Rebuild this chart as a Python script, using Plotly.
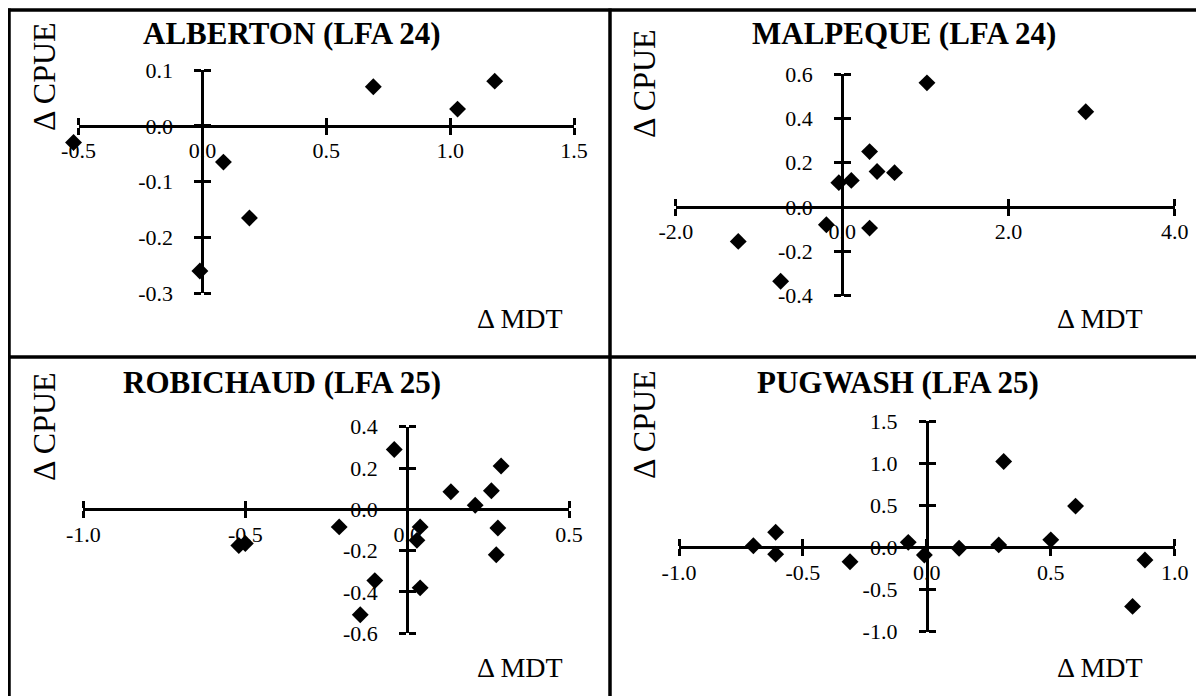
import plotly.graph_objects as go

# ---------------- data ----------------
titles = ["ALBERTON (LFA 24)", "MALPEQUE (LFA 24)", "ROBICHAUD (LFA 25)", "PUGWASH (LFA 25)"]
x_label = "\u0394 MDT"
y_label = "\u0394 CPUE"

alberton_mdt = [-0.52, 0.69, 1.03, 1.18, 0.085, 0.19, -0.01]
alberton_cpue = [-0.03, 0.07, 0.03, 0.08, -0.065, -0.165, -0.26]

malpeque_mdt = [1.02, 2.93, 0.33, 0.42, 0.63, -0.04, 0.11, -0.19, 0.33, -1.25, -0.74]
malpeque_cpue = [0.56, 0.43, 0.25, 0.16, 0.155, 0.11, 0.12, -0.08, -0.095, -0.155, -0.335]

robichaud_mdt = [-0.04, 0.29, 0.135, 0.26, 0.21, 0.28, 0.275, 0.04, 0.03, -0.21, -0.52, -0.50,
                 -0.10, 0.04, -0.145]
robichaud_cpue = [0.29, 0.21, 0.085, 0.09, 0.02, -0.09, -0.22, -0.085, -0.15, -0.085, -0.175,
                  -0.165, -0.345, -0.38, -0.51]

pugwash_mdt = [0.31, 0.60, 0.50, 0.29, 0.13, -0.075, -0.01, -0.31, -0.61, -0.61, -0.70, 0.88, 0.83]
pugwash_cpue = [1.02, 0.49, 0.09, 0.03, -0.01, 0.06, -0.09, -0.17, 0.18, -0.08, 0.02, -0.15, -0.70]

xs = [alberton_mdt, malpeque_mdt, robichaud_mdt, pugwash_mdt]
ys = [alberton_cpue, malpeque_cpue, robichaud_cpue, pugwash_cpue]

x_ranges = [[-0.5, 1.5], [-2.0, 4.0], [-1.0, 0.5], [-1.0, 1.0]]
y_ranges = [[-0.3, 0.1], [-0.4, 0.6], [-0.6, 0.4], [-1.0, 1.5]]

x_ticks = [[-0.5, 0.0, 0.5, 1.0, 1.5], [-2.0, 0.0, 2.0, 4.0],
           [-1.0, -0.5, 0.0, 0.5], [-1.0, -0.5, 0.0, 0.5, 1.0]]
x_ticktext = [["-0.5", "0.0", "0.5", "1.0", "1.5"], ["-2.0", "0.0", "2.0", "4.0"],
              ["-1.0", "-0.5", "0.0", "0.5"], ["-1.0", "-0.5", "0.0", "0.5", "1.0"]]
y_ticks = [[-0.3, -0.2, -0.1, 0.0, 0.1], [-0.4, -0.2, 0.0, 0.2, 0.4, 0.6],
           [-0.6, -0.4, -0.2, 0.0, 0.2, 0.4], [-1.0, -0.5, 0.0, 0.5, 1.0, 1.5]]
y_ticktext = [["-0.3", "-0.2", "-0.1", "0.0", "0.1"], ["-0.4", "-0.2", "0.0", "0.2", "0.4", "0.6"],
              ["-0.6", "-0.4", "-0.2", "0.0", "0.2", "0.4"], ["-1.0", "-0.5", "0.0", "0.5", "1.0", "1.5"]]

# ---------------- layout (page pixels) ----------------
W, H = 1204, 696
OFF = 8  # default page margin around the plot div
PAD = 30  # extra room so markers just beyond an axis end are still drawn
# plot-area pixel boxes: (left, right, top, bottom)
boxes = [(78.5, 574.0, 70.0, 293.3),
         (675.9, 1174.7, 74.0, 295.7),
         (83.4, 569.1, 426.7, 633.3),
         (679.0, 1174.7, 421.0, 631.7)]
title_pos = [(291, 33), (904, 33), (282, 382), (898, 382)]
ylab_pos = [(44, 77), (644, 84), (44, 427), (644, 425)]
xlab_pos = [(520, 318), (1100, 318), (520, 667), (1100, 667)]

FONT = "Liberation Serif, Times New Roman, serif"


def px(x):
    return (x - OFF) / W


def py(y):
    return 1 - (y - OFF) / H


fig = go.Figure()
layout = dict(
    template="none",
    width=W, height=H, margin=dict(l=0, r=0, t=0, b=0, autoexpand=False),
    paper_bgcolor="white", plot_bgcolor="rgba(0,0,0,0)",
    showlegend=False, font=dict(family=FONT, color="black", size=22),
)

annotations = []
for i in range(4):
    n = "" if i == 0 else str(i + 1)
    h = str(i + 5)  # hidden companion axes carrying the markers
    l, r, t, b = boxes[i]
    x0, x1 = x_ranges[i]
    y0, y1 = y_ranges[i]
    ux = (x1 - x0) / (r - l)
    uy = (y1 - y0) / (b - t)
    # pixel location of the zero crossing
    zero_px = l + (0 - x0) / (x1 - x0) * (r - l)
    zero_py = t + (y1 - 0) / (y1 - y0) * (b - t)

    # invisible trace that anchors the visible crossing axes
    fig.add_trace(go.Scatter(
        x=xs[i], y=ys[i], mode="markers", xaxis="x" + n, yaxis="y" + n,
        marker=dict(size=1, opacity=0), hoverinfo="skip",
    ))
    # the data markers, on the same scale with a little extra room
    fig.add_trace(go.Scatter(
        x=xs[i], y=ys[i], mode="markers", xaxis="x" + h, yaxis="y" + h,
        marker=dict(symbol="diamond", size=13, color="black", line=dict(width=0)),
        cliponaxis=False, hoverinfo="x+y",
    ))

    common = dict(showline=True, linecolor="black", linewidth=3, showgrid=False,
                  zeroline=False, ticks="outside", ticklen=7, tickwidth=3,
                  tickcolor="black", tickfont=dict(family=FONT, size=22, color="black"),
                  fixedrange=True, automargin=False, layer="below traces")
    layout["xaxis" + n] = dict(
        common, domain=[px(l), px(r)], range=[x0, x1], anchor="free",
        position=py(zero_py), tickmode="array", tickvals=x_ticks[i],
        ticktext=x_ticktext[i], ticklabelstandoff=-3,
        minor=dict(ticks="inside", tickmode="array", tickvals=x_ticks[i],
                   ticklen=7, tickwidth=3, tickcolor="black"),
    )
    layout["yaxis" + n] = dict(
        common, domain=[py(b), py(t)], range=[y0, y1], anchor="free",
        position=px(zero_px), tickmode="array", tickvals=y_ticks[i],
        ticktext=y_ticktext[i], ticklabelstandoff=17,
        minor=dict(ticks="inside", tickmode="array", tickvals=y_ticks[i],
                   ticklen=7, tickwidth=3, tickcolor="black"),
    )
    layout["xaxis" + h] = dict(
        visible=False, fixedrange=True, anchor="y" + h,
        domain=[px(l - PAD), px(r + PAD)], range=[x0 - PAD * ux, x1 + PAD * ux],
    )
    layout["yaxis" + h] = dict(
        visible=False, fixedrange=True, anchor="x" + h,
        domain=[py(b + PAD), py(t - PAD)], range=[y0 - PAD * uy, y1 + PAD * uy],
    )

    annotations.append(dict(text="<b>" + titles[i] + "</b>", x=px(title_pos[i][0]),
                            y=py(title_pos[i][1]), xref="paper", yref="paper",
                            showarrow=False, xanchor="center", yanchor="middle",
                            font=dict(family=FONT, size=31, color="black")))
    annotations.append(dict(text=y_label, x=px(ylab_pos[i][0]), y=py(ylab_pos[i][1]),
                            xref="paper", yref="paper", showarrow=False, textangle=-90,
                            xanchor="center", yanchor="middle",
                            font=dict(family=FONT, size=32, color="black")))
    annotations.append(dict(text=x_label, x=px(xlab_pos[i][0]), y=py(xlab_pos[i][1]),
                            xref="paper", yref="paper", showarrow=False,
                            xanchor="center", yanchor="middle",
                            font=dict(family=FONT, size=28, color="black")))

# panel frame lines
line = dict(color="black", width=3.5)
shapes = [
    dict(type="line", xref="paper", yref="paper", x0=px(7), x1=px(W + OFF), y0=py(10), y1=py(10), line=line),
    dict(type="line", xref="paper", yref="paper", x0=px(7), x1=px(W + OFF), y0=py(357), y1=py(357), line=line),
    dict(type="line", xref="paper", yref="paper", x0=px(9), x1=px(9), y0=py(8.5), y1=py(H + OFF), line=line),
    dict(type="line", xref="paper", yref="paper", x0=px(610), x1=px(610), y0=py(8.5), y1=py(H + OFF), line=line),
]
layout["annotations"] = annotations
layout["shapes"] = shapes
fig.update_layout(**layout)

fig.write_html("out.html")
